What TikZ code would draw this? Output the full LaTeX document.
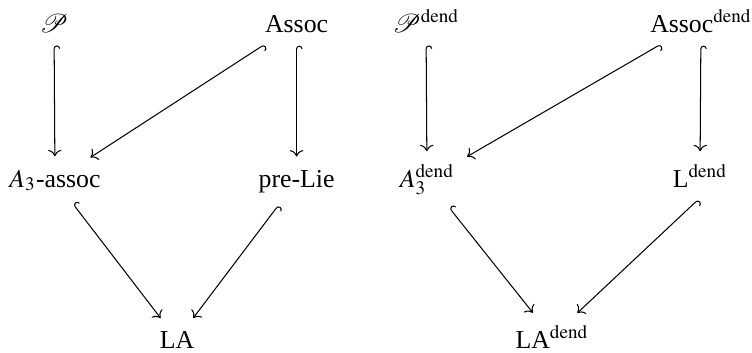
\documentclass[tikz,border=0pt]{standalone}
\usepackage{mathptmx}
\usepackage{mathrsfs}
\usepackage{fontspec}
\setmainfont{Liberation Serif}
\usetikzlibrary{arrows.meta}

\begin{document}
\begin{tikzpicture}[x=0.3876pt, y=-0.3876pt,
    op/.style={anchor=base, inner sep=4pt},
    incl/.style={{Hooks[right]}-{To}, shorten <=1pt, shorten >=1pt}]
  \useasboundingbox (0,0) rectangle (752,352);

  % operads
  \node[op] (P)      at (54,32)    {$\mathscr{P}$};
  \node[op] (Assoc)  at (296.6,32) {Assoc};
  \node[op] (A3)     at (55,187)   {$A_3$-assoc};
  \node[op] (preLie) at (296.6,187) {pre-Lie};
  \node[op] (LA)     at (177,348)  {LA};

  % dendriform versions
  \node[op] (Pd)     at (426,32)  {$\mathscr{P}^{\mathrm{dend}}$};
  \node[op] (Assocd) at (701,32)  {Assoc$^{\mathrm{dend}}$};
  \node[op] (A3d)    at (427,187) {$A_3^{\mathrm{dend}}$};
  \node[op] (Ld)     at (700,187) {L$^{\mathrm{dend}}$};
  \node[op] (LAd)    at (552,348) {LA$^{\mathrm{dend}}$};

  % inclusions
  \foreach \a/\b in {P/A3, Assoc/A3, Assoc/preLie, A3/LA, preLie/LA,
                     Pd/A3d, Assocd/A3d, Assocd/Ld, A3d/LAd}
    \draw[incl] (\a) -- (\b);
  \draw[incl] (Ld.south) -- (LAd);
\end{tikzpicture}
\end{document}
